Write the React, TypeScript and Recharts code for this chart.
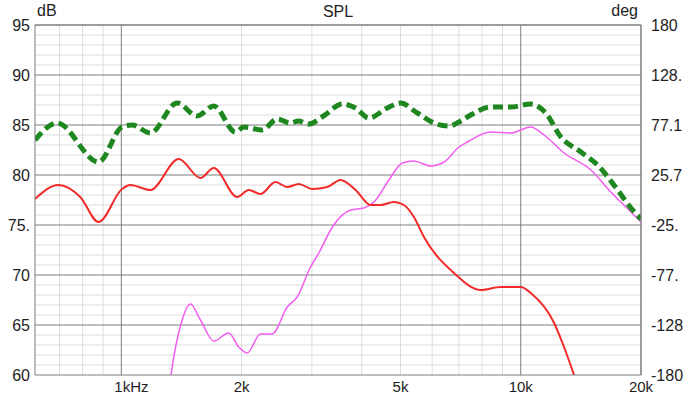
import { LineChart, Line, XAxis, YAxis, ReferenceLine } from "recharts";

const FONT = "'Liberation Sans', Arial, sans-serif";
const TEXT = "#1e1e1e";
const MAJOR = "#7c7c7c";
const MINOR = "#dcdcdc";

// x axis (Hz, log)
const freqTicks = [1000, 2000, 5000, 10000, 20000];
const freqLabels = ["1kHz", "2k", "5k", "10k", "20k"];
const freqMinor = [700, 800, 900, 2000, 3000, 4000, 5000, 6000, 7000, 8000, 9000];
const freqMajor = [1000, 10000, 20000];

// left axis (dB)
const dbTicks = [60, 65, 70, 75, 80, 85, 90, 95];
const dbLabels = ["60", "65", "70", "75.", "80", "85", "90", "95"];
const dbMajor = [65, 70, 75, 80, 85, 90, 95];
const dbMinor = [61, 62, 63, 64, 66, 67, 68, 69, 71, 72, 73, 74, 76, 77, 78, 79, 81, 82, 83, 84, 86, 87, 88, 89, 91, 92, 93, 94];

// right axis (deg)
const degTicks = [-180, -128.6, -77.1, -25.7, 25.7, 77.1, 128.6, 180];

// green dashed curve
const greenFreq = [608, 690, 877, 1004, 1064, 1182, 1379, 1548, 1704, 1931, 2026, 2253, 2456, 2652, 2777, 2943, 3208, 3574, 3859, 4167, 4634, 5004, 5510, 6062, 6612, 7005, 7494, 8410, 9439, 10590, 11550, 12600, 14140, 15570, 17480, 18870, 20000];
const greenDb = [83.5, 85.2, 81.3, 84.8, 85.0, 84.2, 87.2, 85.9, 86.9, 84.3, 84.8, 84.5, 85.6, 85.2, 85.4, 85.1, 85.9, 87.1, 86.7, 85.7, 86.7, 87.2, 86.2, 85.2, 84.9, 85.3, 86.0, 86.8, 86.8, 87.1, 86.2, 83.8, 82.3, 81.0, 78.5, 76.7, 75.6];

// red curve
const redFreq = [608, 696, 789, 877, 1004, 1053, 1182, 1392, 1578, 1704, 1950, 2085, 2231, 2432, 2602, 2783, 3006, 3278, 3539, 3859, 4208, 4458, 4814, 5099, 5401, 5723, 6804, 7939, 8910, 10000, 10590, 12120, 12720, 13600, 14140];
const redDb = [77.6, 79.0, 77.8, 75.3, 78.6, 79.0, 78.5, 81.6, 79.7, 80.7, 77.8, 78.5, 78.1, 79.3, 78.8, 79.1, 78.6, 78.8, 79.5, 78.5, 77.0, 77.0, 77.3, 77.0, 75.8, 73.8, 70.2, 68.5, 68.8, 68.8, 68.2, 65.2, 63.2, 60.0, 58.0];

// magenta curve
const magFreq = [1289, 1332, 1420, 1489, 1578, 1704, 1857, 1968, 2065, 2231, 2386, 2602, 2756, 2976, 3123, 3375, 3750, 4049, 4290, 4677, 5052, 5401, 5949, 6424, 7005, 7352, 8410, 9439, 10590, 11440, 12840, 14980, 16810, 18870, 20000];
const magDb = [55, 60.0, 65.5, 67.1, 65.5, 63.4, 64.2, 62.8, 62.2, 64.1, 64.1, 66.8, 67.8, 70.8, 72.2, 74.8, 76.5, 76.7, 77.3, 79.5, 81.2, 81.4, 80.9, 81.3, 82.8, 83.3, 84.3, 84.2, 84.8, 84.0, 82.2, 80.5, 78.3, 76.3, 75.3];

const toPoints = (f: number[], v: number[]) => f.map((hz, i) => ({ f: hz, v: v[i] }));
const greenData = toPoints(greenFreq, greenDb);
const redData = toPoints(redFreq, redDb);
const magData = toPoints(magFreq, magDb);

function FreqTick(props: any) {
  const { x, y, payload } = props;
  const i = freqTicks.indexOf(payload.value);
  const first = payload.value === 1000;
  return (
    <text
      x={first ? x - 7 : x}
      y={y}
      dy="0.71em"
      textAnchor={first ? "start" : "middle"}
      fontFamily={FONT}
      fontSize={15}
      fill={TEXT}
    >
      {freqLabels[i]}
    </text>
  );
}

function DegTick(props: any) {
  const { x, y, payload } = props;
  return (
    <text x={x} y={y} dy="0.355em" textAnchor="start" fontFamily={FONT} fontSize={16} fill={TEXT}>
      {String(payload.value).slice(0, 4)}
    </text>
  );
}

const overlay = { position: "absolute" as const, fontFamily: FONT, fontSize: 16, lineHeight: "16px", color: TEXT };

export default function App() {
  return (
    <div style={{ position: "absolute", left: 0, top: 0, width: 688, height: 394, background: "#fff" }}>
      <LineChart width={688} height={394} margin={{ top: 25, right: 0, bottom: 0, left: 0 }}>
        <XAxis
          dataKey="f"
          type="number"
          scale="log"
          domain={[608, 20000]}
          allowDataOverflow
          ticks={freqTicks}
          tick={<FreqTick />}
          tickLine={false}
          tickSize={4}
          tickMargin={2}
          height={19}
          stroke={MAJOR}
        />
        <YAxis
          yAxisId="db"
          type="number"
          domain={[60, 95]}
          allowDataOverflow
          ticks={dbTicks}
          tickFormatter={(v: number) => dbLabels[dbTicks.indexOf(v)]}
          tickLine={false}
          tickSize={3}
          tickMargin={2}
          width={35}
          stroke={MAJOR}
          tick={{ fontFamily: FONT, fontSize: 16, fill: TEXT }}
        />
        <YAxis
          yAxisId="deg"
          orientation="right"
          type="number"
          domain={[-180, 180]}
          allowDataOverflow
          ticks={degTicks}
          tick={<DegTick />}
          tickLine={false}
          tickSize={6}
          tickMargin={4}
          width={47}
          stroke={MAJOR}
        />
        {dbMinor.map((v) => (
          <ReferenceLine key={"hm" + v} yAxisId="db" y={v} stroke={MINOR} strokeWidth={1} />
        ))}
        {freqMinor.map((v) => (
          <ReferenceLine key={"vm" + v} yAxisId="db" x={v} stroke={MINOR} strokeWidth={1} />
        ))}
        {dbMajor.map((v) => (
          <ReferenceLine key={"hM" + v} yAxisId="db" y={v} stroke={MAJOR} strokeWidth={1} />
        ))}
        {freqMajor.map((v) => (
          <ReferenceLine key={"vM" + v} yAxisId="db" x={v} stroke={MAJOR} strokeWidth={1} />
        ))}
        <ReferenceLine yAxisId="deg" y={180} stroke={MAJOR} strokeWidth={1} />
        <Line
          yAxisId="db"
          data={magData}
          dataKey="v"
          type="monotone"
          stroke="#f25cf2"
          strokeWidth={1.5}
          dot={false}
          isAnimationActive={false}
        />
        <Line
          yAxisId="db"
          data={redData}
          dataKey="v"
          type="monotone"
          stroke="#f22a2a"
          strokeWidth={2}
          dot={false}
          isAnimationActive={false}
        />
        <Line
          yAxisId="db"
          data={greenData}
          dataKey="v"
          type="monotone"
          stroke="#1f871f"
          strokeWidth={5}
          strokeDasharray="10 5"
          dot={false}
          isAnimationActive={false}
        />
      </LineChart>
      <div style={{ ...overlay, left: 35, top: 4, width: 606, textAlign: "center" }}>SPL</div>
      <div style={{ ...overlay, left: 37, top: 3 }}>dB</div>
      <div style={{ ...overlay, left: 560, top: 3, width: 78, textAlign: "right" }}>deg</div>
    </div>
  );
}
